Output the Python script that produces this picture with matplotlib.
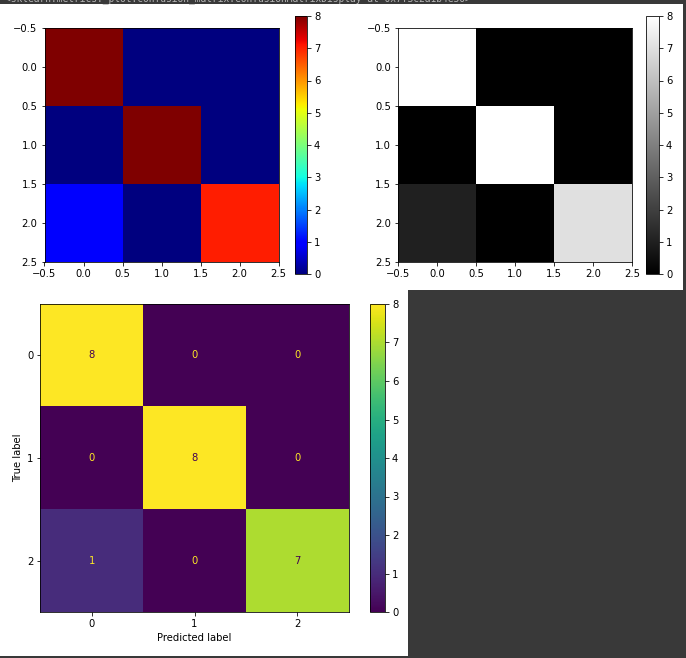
import numpy as np
import matplotlib
matplotlib.use("Agg")
import matplotlib.pyplot as plt
from matplotlib.patches import Rectangle

# datos de la matriz de confusion
cm = np.array([[8, 0, 0],
               [0, 8, 0],
               [1, 0, 7]])
etiquetas = ["0", "1", "2"]

W, H = 686, 658
fig = plt.figure(figsize=(W / 72, H / 72), dpi=72)
fig.patch.set_facecolor("#393939")


def caja(x0, y0, x1, y1):
    # rectangulo en pixeles (origen arriba a la izquierda)
    return [x0 / W, (H - y1) / H, (x1 - x0) / W, (y1 - y0) / H]


# fondos blancos de las dos salidas del notebook
fig.patches.append(Rectangle((0, (H - 290) / H), 683 / W, 286 / H,
                             transform=fig.transFigure, facecolor="white", zorder=-10))
fig.patches.append(Rectangle((0, (H - 656) / H), 408 / W, 367 / H,
                             transform=fig.transFigure, facecolor="white", zorder=-10))

# texto cortado de la salida anterior (en la captura solo se ve la mitad de abajo)
fig.text(5 / W, 1 - 1.5 / H, "<sklearn.metrics._plot.confusion_matrix.ConfusionMatrixDisplay at 0x7f3c2a1b4e50>",
         family="DejaVu Sans Mono", fontsize=9.6, color="#b4b4b4", va="baseline")

# grafico 1: jet
ax1 = fig.add_axes(caja(44, 28, 279, 262))
im1 = ax1.imshow(cm, cmap="jet")
cax1 = fig.add_axes(caja(295, 16, 307, 274))
fig.colorbar(im1, cax=cax1)

# grafico 2: gris
ax2 = fig.add_axes(caja(397, 28, 633, 262))
im2 = ax2.imshow(cm, cmap="gray")
cax2 = fig.add_axes(caja(646, 16, 659, 274))
fig.colorbar(im2, cax=cax2)

# grafico 3: estilo ConfusionMatrixDisplay
ax3 = fig.add_axes(caja(40, 304, 349, 612))
im3 = ax3.imshow(cm, cmap="viridis", interpolation="nearest")
cmap = im3.cmap
umbral = (cm.max() + cm.min()) / 2.0
for i in range(cm.shape[0]):
    for j in range(cm.shape[1]):
        color = cmap(0) if cm[i, j] >= umbral else cmap(1.0)
        ax3.text(j, i, str(cm[i, j]), ha="center", va="center", color=color)
ax3.set_xticks(range(3))
ax3.set_yticks(range(3))
ax3.set_xticklabels(etiquetas)
ax3.set_yticklabels(etiquetas)
ax3.set_xlabel("Predicted label")
ax3.set_ylabel("True label")
ax3.set_ylim(2.5, -0.5)
cax3 = fig.add_axes(caja(370, 304, 385, 612))
fig.colorbar(im3, cax=cax3)

plt.savefig("out.png", dpi=72, facecolor=fig.get_facecolor())
